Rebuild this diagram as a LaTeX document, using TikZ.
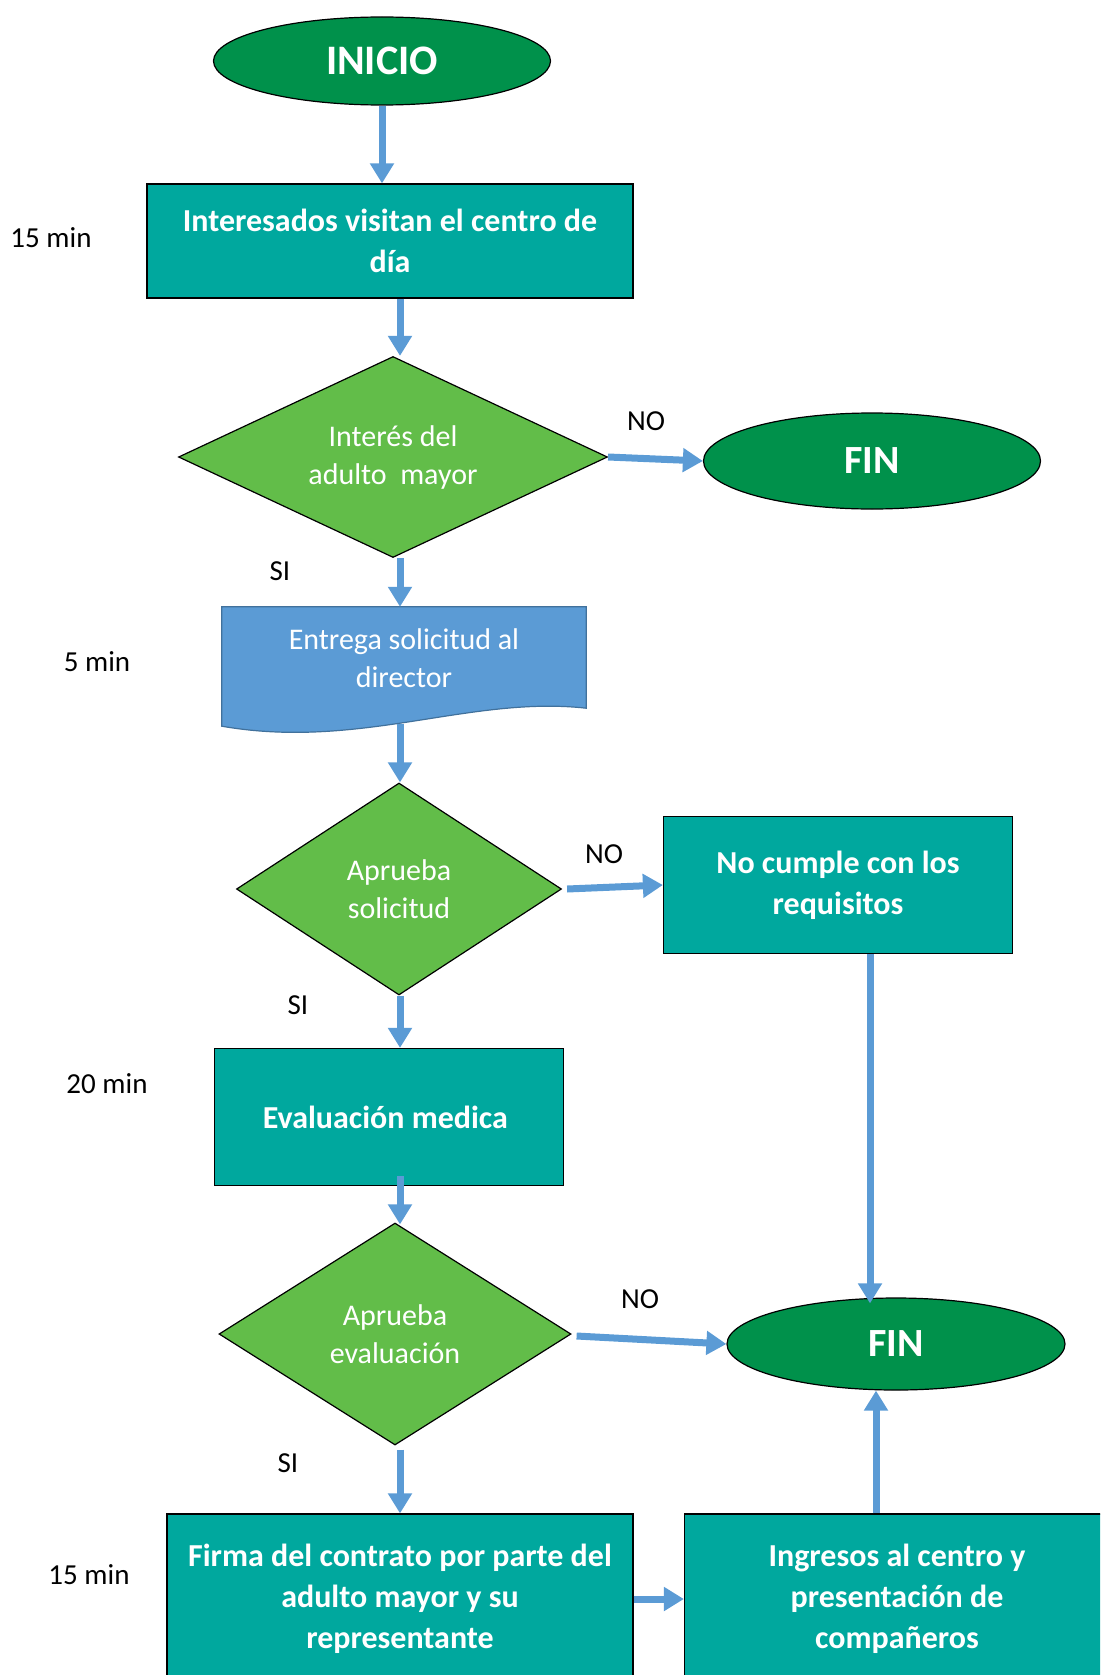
\documentclass[tikz,border=0pt]{standalone}
\usepackage{fontspec}
\setmainfont{Carlito}
\usetikzlibrary{shapes.geometric, arrows.meta, backgrounds}

\definecolor{termgreen}{RGB}{0,145,75}
\definecolor{procteal}{RGB}{0,168,158}
\definecolor{decgreen}{RGB}{98,189,73}
\definecolor{docblue}{RGB}{91,155,213}
\definecolor{docedge}{RGB}{65,113,156}
\definecolor{flowblue}{RGB}{91,155,213}

\begin{document}
\begin{tikzpicture}[
    x=1pt, y=-1pt,
    flow/.style={-{Triangle[width=23pt,length=20pt]}, line width=7pt, draw=flowblue},
    terminal/.style={
        ellipse, draw=black, line width=1.2pt, fill=termgreen, text=white,
        font=\fontsize{40}{48}\selectfont\bfseries
    },
    process/.style={
        rectangle, draw=black, line width=1.2pt, fill=procteal, text=white,
        align=center, font=\fontsize{32}{41}\selectfont\bfseries
    },
    decision/.style={
        diamond, aspect=2, inner sep=2pt, draw=black, line width=1.2pt,
        fill=decgreen, text=white, align=center,
        font=\fontsize{30}{38}\selectfont
    },
    document/.style={
        rectangle, text=white, align=center,
        font=\fontsize{30}{38}\selectfont
    },
    note/.style={font=\fontsize{29}{32}\selectfont, text=black}
]

\useasboundingbox (0,0) rectangle (1100,1675);
\clip (0,0) rectangle (1100,1675);

% -------------------------
% Main column
% -------------------------

% 1. Start
\node[terminal, minimum width=337pt, minimum height=88pt,
      font=\fontsize{42}{50}\selectfont\bfseries] (inicio) at (382,61) {INICIO};

% 2. Visit
\node[process, minimum width=486pt, minimum height=114pt] (visita) at (390,241) {
    Interesados visitan el centro de\\
    día
};

% 3. Interest
\node[decision, minimum width=429pt, minimum height=201pt] (interes) at (393,457) {
    Interés del\\
    adulto~ mayor
};

% 4. Request (document shape)
\node[document, minimum width=364pt, minimum height=102pt] (entrega) at (404,658) {
    Entrega solicitud al\\
    director
};

% 5. Approval of the request
\node[decision, minimum width=325pt, minimum height=212pt] (solicitud) at (399,889) {
    Aprueba\\
    solicitud
};

% 6. Medical check
\node[process, minimum width=349pt, minimum height=137pt] (evaluacion) at (389,1117) {
    Evaluación medica
};

% 7. Approval of the check
\node[decision, minimum width=352pt, minimum height=222pt] (aprueba) at (395,1334) {
    Aprueba\\
    evaluación
};

% 8. Contract
\node[process, minimum width=466pt, minimum height=170pt] (contrato) at (400,1599) {
    Firma del contrato por parte del\\
    adulto mayor y su\\
    representante
};

% -------------------------
% Right column
% -------------------------

\node[terminal, minimum width=337pt, minimum height=96pt] (finA) at (872,461) {FIN};

\node[process, minimum width=349pt, minimum height=137pt] (nocumple) at (838,885) {
    No cumple con los\\
    requisitos
};

\node[terminal, minimum width=338pt, minimum height=92pt] (finB) at (896,1344) {FIN};

\node[process, minimum width=425pt, minimum height=170pt] (ingreso) at (897,1599) {
    Ingresos al centro y\\
    presentación de\\
    compañeros
};

% document outline behind its text
\begin{scope}[on background layer]
\draw[fill=docblue, draw=docedge, line width=1.2pt]
    (entrega.north west) -- (entrega.north east) -- ([yshift=1pt]entrega.south east)
    .. controls +(-116,-13) and +(138,24) .. ([yshift=-17pt]entrega.south west) -- cycle;
\end{scope}

% -------------------------
% Times and answers
% -------------------------

\node[note] (t1) at (51,238) {15 min};
\node[note] (t2) at (97,662) {5 min};
\node[note] (t3) at (107,1084) {20 min};
\node[note] (t4) at (89,1575) {15 min};

\node[note] (noA) at (646,421) {NO};
\node[note] (siA) at (280,571) {SI};
\node[note] (noB) at (604,854) {NO};
\node[note] (siB) at (298,1005) {SI};
\node[note] (noC) at (640,1299) {NO};
\node[note] (siC) at (288,1463) {SI};

% -------------------------
% Connections
% -------------------------

\coordinate (col) at (400,0);

\draw[flow] (inicio.south) -- (inicio.south |- visita.north);
\draw[flow] (visita.south -| col) -- (interes.north -| col);
\draw[flow] (interes.south -| col) -- (entrega.north -| col);
\draw[flow] ([yshift=-15pt]entrega.south -| col) -- (solicitud.north -| col);
\draw[flow] (solicitud.south -| col) -- (evaluacion.north -| col);
\draw[flow] ([yshift=10pt]evaluacion.south -| col) -- ([yshift=-2pt]aprueba.north -| col);
\draw[flow] ([yshift=-4pt]aprueba.south -| col) -- (contrato.north -| col);

\draw[flow] (interes.east) -- (finA.west);
\draw[flow] ([xshift=5pt]solicitud.east) -- (nocumple.west);
\draw[flow] ([xshift=5pt,yshift=-2pt]aprueba.east) -- (finB.west);
\draw[flow] (contrato.east) -- (ingreso.west);

\draw[flow] ([xshift=32pt]nocumple.south) -- ([xshift=32pt,yshift=-6pt]nocumple.south |- finB.north);
\draw[flow] ([xshift=-21pt]ingreso.north) -- ([xshift=-21pt]ingreso.north |- finB.south);

\end{tikzpicture}
\end{document}
